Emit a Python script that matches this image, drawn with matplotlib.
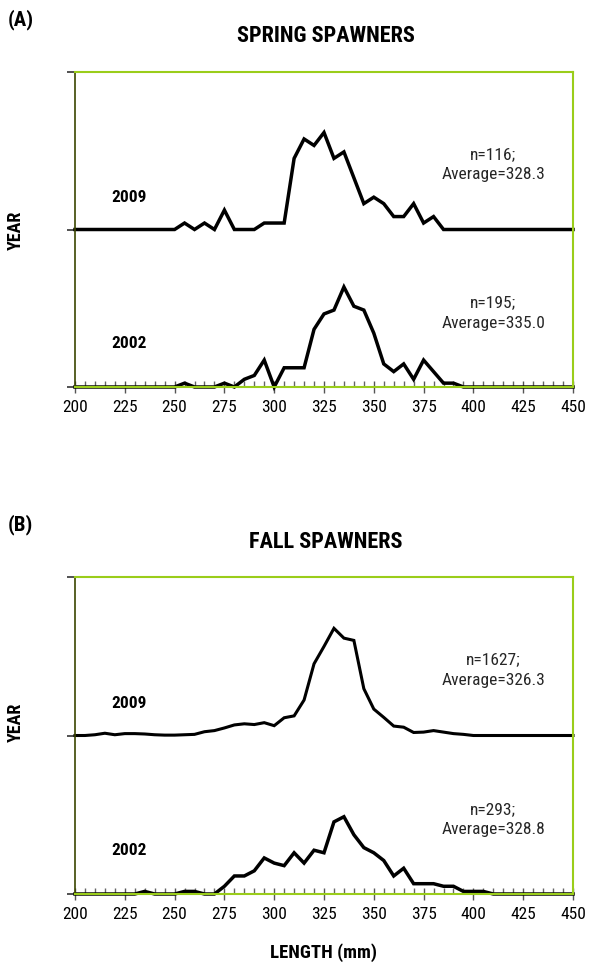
import numpy as np
import matplotlib
matplotlib.use("Agg")
import matplotlib.pyplot as plt
from matplotlib import font_manager
from matplotlib.ticker import MultipleLocator

# length classes (mm), 5 mm bins
lengths = list(range(200, 451, 5))

# spring spawners, counts per bin
spring_2009 = [0, 0, 0, 0, 0, 0, 0, 0, 0, 0, 0,      # 200-250
               1, 0, 1, 0, 3, 0, 0, 0, 1, 1,         # 255-300
               1, 11, 14, 13, 15, 11, 12, 8, 4, 5,   # 305-350
               4, 2, 2, 4, 1, 2, 0, 0, 0, 0,         # 355-400
               0, 0, 0, 0, 0, 0, 0, 0, 0, 0]         # 405-450
spring_2002 = [0, 0, 0, 0, 0, 0, 0, 0, 0, 0, 0,
               1, 0, 0, 0, 1, 0, 2, 3, 7, 0,
               5, 5, 5, 15, 19, 20, 26, 21, 20, 14,
               6, 4, 6, 2, 7, 4, 1, 1, 0, 0,
               0, 0, 0, 0, 0, 0, 0, 0, 0, 0]

# fall spawners: 2009 read as percent, 2002 as counts
fall_2009_pct = [0, 0, 0.1, 0.3, 0.1, 0.25, 0.25, 0.2, 0.1, 0.05, 0.05,
                 0.1, 0.15, 0.5, 0.65, 1.0, 1.4, 1.55, 1.45, 1.7, 1.3,
                 2.35, 2.6, 4.7, 9.5, 11.8, 14.2, 12.9, 12.6, 6.2, 3.5,
                 2.4, 1.25, 1.1, 0.4, 0.45, 0.65, 0.45, 0.25, 0.15, 0,
                 0, 0, 0, 0, 0, 0, 0, 0, 0, 0]
fall_2002 = [0, 0, 0, 0, 0, 0, 0, 1, 0, 0, 0,
             1, 1, 0, 0, 3, 7, 7, 9, 14, 12,
             11, 16, 12, 17, 16, 28, 30, 23, 18, 16,
             13, 7, 10, 4, 4, 4, 3, 3, 1, 1,
             1, 0, 0, 0, 0, 0, 0, 0, 0, 0]

n_spring = {"2009": 116, "2002": 195}
avg_spring = {"2009": "328.3", "2002": "335.0"}
n_fall = {"2009": 1627, "2002": 293}
avg_fall = {"2009": "326.3", "2002": "328.8"}

offset = 21  # vertical shift of the 2009 curve (%)

# condensed face if one is installed
names = {f.name for f in font_manager.fontManager.ttflist}
fam = "Liberation Sans"
for cand in ["Liberation Sans Narrow", "DejaVu Sans Condensed",
             "Roboto Condensed", "Open Sans Condensed", "Noto Sans Condensed"]:
    if cand in names:
        fam = cand
        break
plt.rcParams["font.family"] = [fam, "DejaVu Sans"]
stretch = "condensed" if fam in ("Liberation Sans", "Noto Sans") else "normal"
plt.rcParams["font.stretch"] = stretch

green = "#9acd1a"
dark = "#3b4500"


def pct(counts, n):
    return np.array(counts) / n * 100


def panel(ax, y09, y02, n, avg, lw09):
    ax.plot(lengths, np.array(y09) + offset, color="black", lw=lw09,
            clip_on=False, solid_joinstyle="miter")
    ax.plot(lengths, y02, color="black", lw=2.5, clip_on=False,
            solid_joinstyle="miter")
    ax.set_xlim(200, 450)
    ax.set_ylim(0, 2 * offset)
    ax.xaxis.set_major_locator(MultipleLocator(25))
    ax.xaxis.set_minor_locator(MultipleLocator(5))
    ax.set_yticks([0, offset, 2 * offset])
    ax.set_yticklabels([])
    ax.tick_params(axis="x", which="major", direction="inout", length=9,
                   width=1, color="#555555", labelsize=12.5, pad=5)
    ax.tick_params(axis="x", which="minor", direction="in", length=4,
                   width=1, color="#666666")
    ax.tick_params(axis="y", direction="out", length=6, width=1.2,
                   color="#333333")
    for s in ["top", "right", "bottom"]:
        ax.spines[s].set_color(green)
        ax.spines[s].set_linewidth(1.5)
    ax.spines["left"].set_color(dark)
    ax.spines["left"].set_linewidth(1.2)

    ax.text(227, offset + 4.3, "2009", ha="center", va="center",
            fontsize=12.5, fontweight="semibold")
    ax.text(227, 5.8, "2002", ha="center", va="center",
            fontsize=12.5, fontweight="semibold")
    ax.text(410, offset + 10.0, "n=%d;" % n["2009"], ha="center",
            va="center", fontsize=12.5, color="#262626")
    ax.text(410, offset + 7.3, "Average=" + avg["2009"], ha="center",
            va="center", fontsize=12.5, color="#262626")
    ax.text(410, 11.2, "n=%d;" % n["2002"], ha="center",
            va="center", fontsize=12.5, color="#262626")
    ax.text(410, 8.5, "Average=" + avg["2002"], ha="center",
            va="center", fontsize=12.5, color="#262626")


W, H = 603, 977
fig = plt.figure(figsize=(W / 100, H / 100), dpi=100)

ax1 = fig.add_axes([75 / W, 1 - 387 / H, 498 / W, 315 / H])
panel(ax1, pct(spring_2009, n_spring["2009"]),
      pct(spring_2002, n_spring["2002"]), n_spring, avg_spring, 2.5)

ax2 = fig.add_axes([75 / W, 1 - 894 / H, 498 / W, 317 / H])
panel(ax2, fall_2009_pct, pct(fall_2002, n_fall["2002"]),
      n_fall, avg_fall, 2.2)

fig.text(8 / W, 1 - 20 / H, "(A)", ha="left", va="center",
         fontsize=15, fontweight="semibold")
fig.text(326 / W, 1 - 36 / H, "SPRING SPAWNERS", ha="center", va="center",
         fontsize=16, fontweight="semibold")
fig.text(8 / W, 1 - 525 / H, "(B)", ha="left", va="center",
         fontsize=15, fontweight="semibold")
fig.text(326 / W, 1 - 542 / H, "FALL SPAWNERS", ha="center", va="center",
         fontsize=16, fontweight="semibold")
fig.text(16 / W, 1 - 230 / H, "YEAR", rotation=90, ha="center",
         va="center", fontsize=13, fontweight="semibold")
fig.text(16 / W, 1 - 722 / H, "YEAR", rotation=90, ha="center",
         va="center", fontsize=13, fontweight="semibold")
fig.text(323 / W, 1 - 953 / H, "LENGTH (mm)", ha="center", va="center",
         fontsize=13.5, fontweight="semibold")

fig.savefig("out.png", dpi=100)
